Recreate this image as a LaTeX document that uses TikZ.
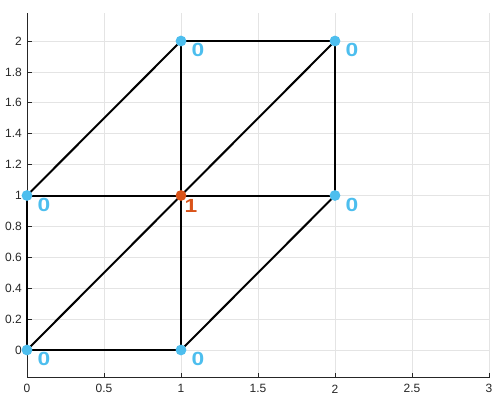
\documentclass[tikz,border=0pt]{standalone}
\usepackage{fontspec}
\setmainfont{Liberation Sans}
\definecolor{mblue}{RGB}{77,190,238}
\definecolor{morange}{RGB}{217,83,25}
\definecolor{axgray}{RGB}{38,38,38}
\definecolor{gridgray}{RGB}{228,228,228}
\tikzset{
  gridline/.style={gridgray, line width=0.6pt},
  axisline/.style={axgray, line width=0.7pt},
  edge/.style={black, line width=2pt},
  dot/.style={circle, inner sep=0pt, minimum size=10.8pt},
  ticklab/.style={inner sep=0pt, text=axgray, font=\fontsize{12}{13}\selectfont},
  vlab/.style={inner sep=0pt, font=\fontsize{19}{20}\selectfont\bfseries},
}
\begin{document}
\begin{tikzpicture}[x=1pt,y=1pt]
\useasboundingbox (0,0) rectangle (494,394);
\begin{scope}[x=154pt,y=154.5pt,shift={(27pt,44pt)}]
  % grid
  \foreach \x in {0.5,1,1.5,2,2.5,3}
    \draw[gridline] (\x,-0.18) -- (\x,2.18);
  \foreach \y in {0,0.2,0.4,0.6,0.8,1,1.2,1.4,1.6,1.8,2}
    \draw[gridline] (0,\y) -- (3,\y);
  % axes
  \draw[axisline] (0,2.18) -- (0,-0.18) -- (3,-0.18);
  \foreach \y/\l in {0/0,0.2/0.2,0.4/0.4,0.6/0.6,0.8/0.8,1/1,1.2/1.2,1.4/1.4,1.6/1.6,1.8/1.8,2/2}{
    \draw[axisline] (0,\y) -- ++(4.5pt,0);
    \node[ticklab, anchor=east] (yl\l) at ([xshift=-5pt]0,\y) {\l};
  }
  \foreach \x/\l in {0/0,0.5/0.5,1/1,1.5/1.5,2/2,2.5/2.5,3/3}{
    \draw[axisline] (\x,-0.18) -- ++(0,4.5pt);
    \node[ticklab, anchor=center] (xl\l) at ([yshift=-11pt]\x,-0.18) {\l};
  }
  % vertices
  \coordinate (p00) at (0,0);
  \coordinate (p10) at (1,0);
  \coordinate (p01) at (0,1);
  \coordinate (p11) at (1,1);
  \coordinate (p21) at (2,1);
  \coordinate (p12) at (1,2);
  \coordinate (p22) at (2,2);
  % edges
  \draw[edge] (p00) -- (p10);
  \draw[edge] (p00) -- (p01);
  \draw[edge] (p00) -- (p11);
  \draw[edge] (p11) -- (p22);
  \draw[edge] (p01) -- (p12);
  \draw[edge] (p10) -- (p21);
  \draw[edge] (p01) -- (p11);
  \draw[edge] (p11) -- (p21);
  \draw[edge] (p12) -- (p22);
  \draw[edge] (p10) -- (p11);
  \draw[edge] (p11) -- (p12);
  \draw[edge] (p21) -- (p22);
  % dots
  \foreach \p in {p00,p10,p01,p21,p12,p22}{
    \node[dot, fill=mblue] (d\p) at (\p) {};
    \node[vlab, text=mblue] (l\p) at ([xshift=17pt,yshift=-9pt]\p) {\scalebox{1.2}[1]{0}};
  }
  \node[dot, fill=morange] (dp11) at (p11) {};
  \node[vlab, text=morange] (lp11) at ([xshift=10pt,yshift=-10pt]p11) {\scalebox{1.2}[1]{1}};
\end{scope}
\end{tikzpicture}
\end{document}
